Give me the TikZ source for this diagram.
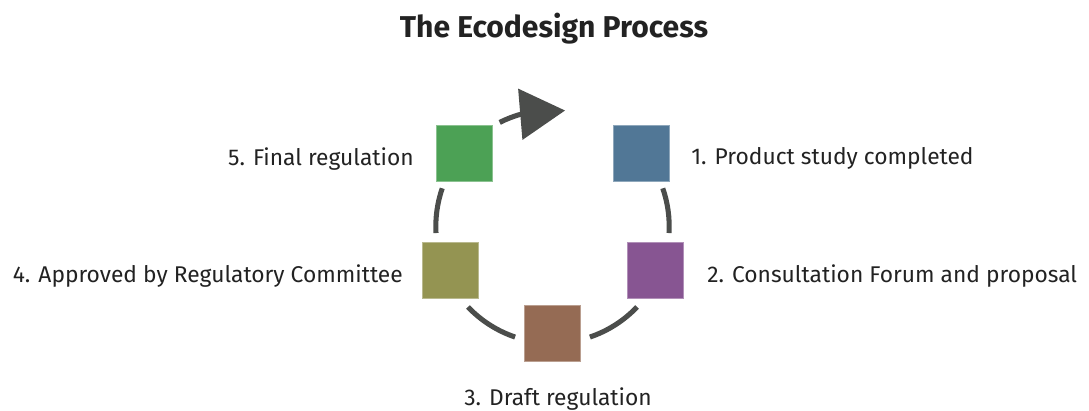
\documentclass[tikz,border=0pt]{standalone}
\usepackage{fontspec}
\setmainfont{Fira Sans}
\usetikzlibrary{arrows.meta,bending}
\definecolor{stepA}{HTML}{517796}
\definecolor{stepB}{HTML}{875592}
\definecolor{stepC}{HTML}{956B54}
\definecolor{stepD}{HTML}{949452}
\definecolor{stepE}{HTML}{4CA155}
\definecolor{ringgray}{HTML}{4B4D4B}
\definecolor{txtgray}{HTML}{222222}

\begin{document}
\begin{tikzpicture}[x=0.025cm,y=-0.025cm,
    sq/.style={fill=#1,draw=#1!65!white,line width=0.6pt,
      minimum size=1.4cm,inner sep=0pt},
    lbl/.style={text=txtgray,inner sep=0pt,
      font=\fontsize{16.2}{20}\selectfont},
    ring/.style={draw=ringgray,line width=3.6pt} ]
  \useasboundingbox (0,0) rectangle (1089,410);
  \node[text=txtgray,font=\fontsize{21.4}{26}\selectfont\bfseries,
    anchor=base,inner sep=0pt] (title) at (554,37) {The Ecodesign Process};
  \coordinate (ctr) at (552.5,226.5);
  \node[sq=stepA] (s1) at (641,153) {};
  \node[sq=stepB] (s2) at (655,270) {};
  \node[sq=stepC] (s3) at (552,333) {};
  \node[sq=stepD] (s4) at (450,270) {};
  \node[sq=stepE] (s5) at (464,153) {};
  \node[lbl,anchor=base west] (l1) at (691,164.5) {1. Product study completed};
  \node[lbl,anchor=base west] (l2) at (707,282) {2. Consultation Forum and proposal};
  \node[lbl,anchor=base] (l3) at (558,405) {3. Draft regulation};
  \node[lbl,anchor=base east] (l4) at (403,282) {4. Approved by Regulatory Committee};
  \node[lbl,anchor=base east] (l5) at (414,165) {5. Final regulation};
  \draw[ring] (ctr) ++(-160.9:116.7) arc[start angle=-160.9,end angle=-183.2,radius=116.7];
  \draw[ring] (ctr) ++(-223.6:116.7) arc[start angle=-223.6,end angle=-251.3,radius=116.7];
  \draw[ring] (ctr) ++(-288.7:116.7) arc[start angle=-288.7,end angle=-316.4,radius=116.7];
  \draw[ring] (ctr) ++(-356.8:116.7) arc[start angle=-356.8,end angle=-379.1,radius=116.7];
  \draw[ring,-{Triangle[length=32pt,width=35.7pt,flex]}]
    (ctr) ++(-116.9:116.7) arc[start angle=-116.9,end angle=-83.8,radius=116.7];
\end{tikzpicture}
\end{document}
